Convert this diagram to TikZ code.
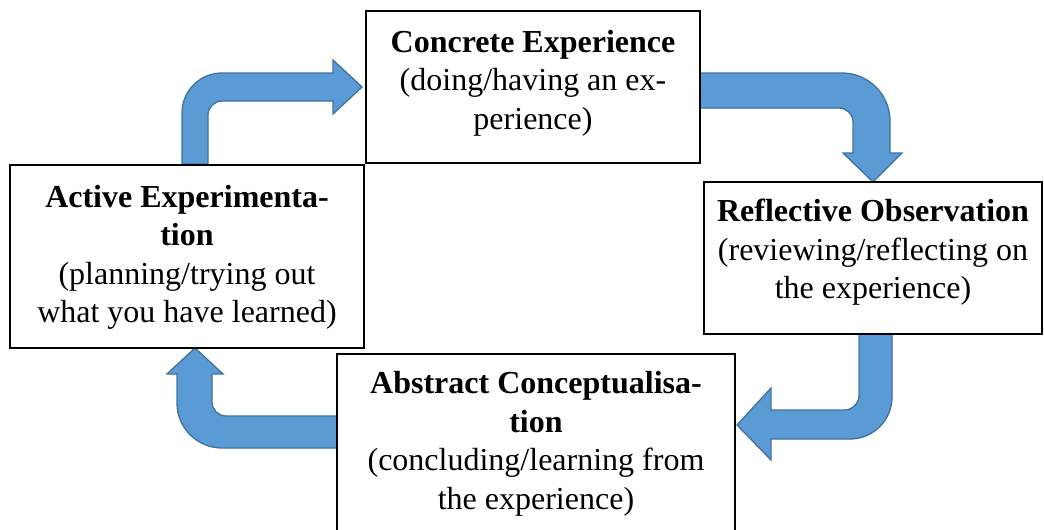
\documentclass[tikz,border=0pt]{standalone}
\usepackage{fontspec}
\setmainfont{Liberation Serif}
\definecolor{arrowblue}{HTML}{5B9BD5}
\definecolor{arrowedge}{HTML}{41719C}
\begin{document}
\begin{tikzpicture}[x=1pt,y=-1pt,
  box/.style={draw=black, line width=1.5pt, fill=white, inner sep=0pt},
  txt/.style={align=center, font=\fontsize{32}{38.5}\selectfont, inner sep=0pt},
  bent/.style={fill=arrowblue, draw=arrowedge, line width=1.3pt, line join=miter}]
\useasboundingbox (0,0) rectangle (1044,530);

% bent block arrows
% Active Experimentation -> Concrete Experience
\path[bent] (182,164) -- (182,113) .. controls (182,90.9) and (199.9,73) .. (222,73)
  -- (333,73) -- (333,60) -- (362,87) -- (333,114) -- (333,101) -- (222,101)
  .. controls (214.3,101) and (208,107.3) .. (208,115) -- (208,164) -- cycle;
% Concrete Experience -> Reflective Observation
\path[bent] (700,73) -- (842,73) .. controls (868.5,73) and (890,94.5) .. (890,121)
  -- (890,153) -- (902,153) -- (873,182) -- (843,153) -- (853,153) -- (853,122)
  .. controls (853,114.3) and (846.7,108) .. (839,108) -- (700,108) -- cycle;
% Reflective Observation -> Abstract Conceptualisation
\path[bent] (859,334) -- (892,334) -- (892,397) .. controls (892,420.2) and (873.2,439) .. (850,439)
  -- (771,439) -- (771,460) -- (737,425) -- (771,388) -- (771,410) -- (845,410)
  .. controls (852.7,410) and (859,402.3) .. (859,396) -- cycle;
% Abstract Conceptualisation -> Active Experimentation
\path[bent] (337,448) -- (222,448) .. controls (197.1,448) and (177,427.9) .. (177,403)
  -- (177,374) -- (167,374) -- (195,348) -- (223,374) -- (212,374) -- (212,402)
  .. controls (212,409.7) and (218.3,416) .. (226,416) -- (337,416) -- cycle;

% boxes
\node[box, minimum width=334pt, minimum height=152pt] (ce) at (533,87) {};
\node[box, minimum width=338pt, minimum height=152pt] (ro) at (873,258) {};
\node[box, minimum width=354pt, minimum height=183pt] (ae) at (187,256.5) {};
\node[box, minimum width=398pt, minimum height=180pt] (ac) at (536,444) {};

% texts
\node[txt] (ceT) at ([yshift=4pt]ce.center)
  {\textbf{Concrete Experience}\\(doing/having an ex-\\perience)};
\node[txt] (roT) at ([yshift=5.5pt]ro.center)
  {\textbf{Reflective Observation}\\(reviewing/reflecting on\\the experience)};
\node[txt] (aeT) at ([yshift=-1pt]ae.center)
  {\textbf{Active Experimenta-}\\\textbf{tion}\\(planning/trying out\\what you have learned)};
\node[txt] (acT) at (ac.center)
  {\textbf{Abstract Conceptualisa-}\\\textbf{tion}\\(concluding/learning from\\the experience)};
\end{tikzpicture}
\end{document}
